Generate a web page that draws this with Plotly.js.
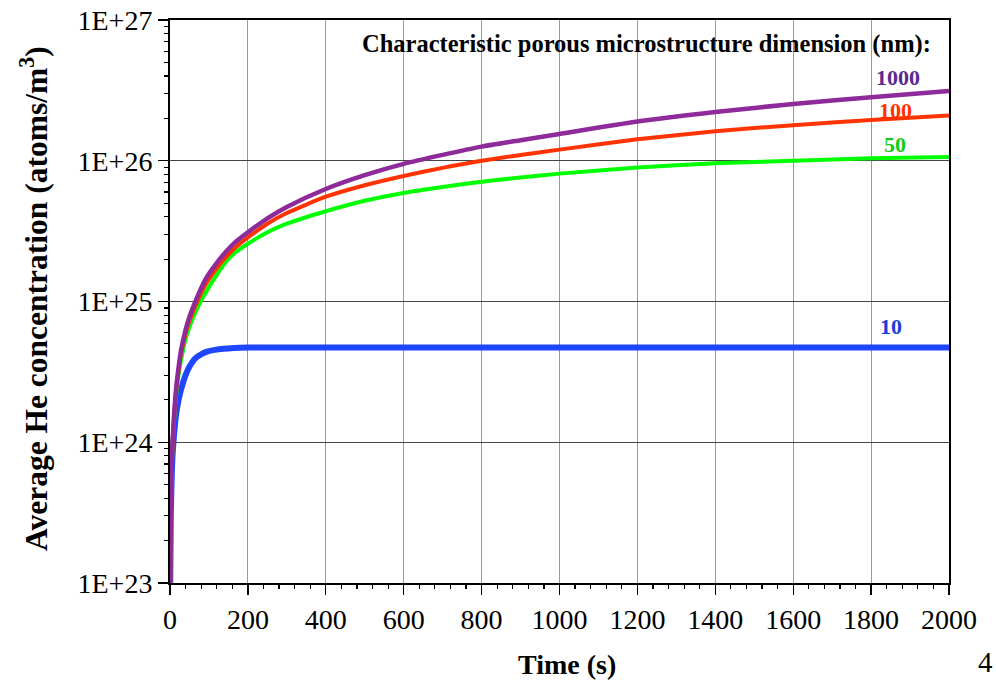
<!DOCTYPE html>
<html>
<head>
<meta charset="utf-8">
<script src="https://cdn.plot.ly/plotly-3.0.1.min.js"></script>
<style>html,body{margin:0;padding:0;background:#fff;}#chart{width:996px;height:681px;}</style>
</head>
<body>
<div id="chart"></div>
<script>
// Time (s)
const time = [0.6, 2, 5, 7, 10, 16, 22, 28, 40, 50, 65, 82, 95, 115, 137, 165, 200, 250, 300, 400, 500, 600, 700, 800, 900, 1000, 1200, 1400, 1600, 1800, 2000];
// Average He concentration (atoms/m3), per characteristic dimension
const he1000 = [1.0e23, 3.2e23, 7.8e23, 1.05e24, 1.5e24, 2.45e24, 3.4e24, 4.45e24, 6.3e24, 7.8e24, 1.0e25, 1.28e25, 1.5e25, 1.8e25, 2.15e25, 2.6e25, 3.1e25, 3.9e25, 4.7e25, 6.3e25, 7.9e25, 9.5e25, 1.1e26, 1.26e26, 1.4e26, 1.55e26, 1.9e26, 2.22e26, 2.53e26, 2.83e26, 3.13e26];
const he100 = [1.0e23, 3.1e23, 7.6e23, 1.02e24, 1.45e24, 2.35e24, 3.25e24, 4.2e24, 5.95e24, 7.3e24, 9.3e24, 1.18e25, 1.37e25, 1.65e25, 1.97e25, 2.38e25, 2.85e25, 3.57e25, 4.25e25, 5.55e25, 6.7e25, 7.8e25, 8.9e25, 1.0e26, 1.1e26, 1.2e26, 1.42e26, 1.62e26, 1.79e26, 1.95e26, 2.1e26];
const he50 = [1.0e23, 3.0e23, 7.2e23, 9.7e23, 1.38e24, 2.2e24, 3.0e24, 3.8e24, 5.4e24, 6.6e24, 8.4e24, 1.04e25, 1.2e25, 1.47e25, 1.82e25, 2.2e25, 2.57e25, 3.1e25, 3.57e25, 4.38e25, 5.2e25, 5.9e25, 6.5e25, 7.1e25, 7.6e25, 8.1e25, 8.95e25, 9.6e25, 1.0e26, 1.04e26, 1.065e26];
const he10 = [1.0e23, 3.0e23, 6.5e23, 8.5e23, 1.1e24, 1.6e24, 2.0e24, 2.35e24, 3.0e24, 3.45e24, 3.95e24, 4.25e24, 4.4e24, 4.53e24, 4.62e24, 4.68e24, 4.71e24, 4.72e24, 4.72e24, 4.72e24, 4.72e24, 4.72e24, 4.72e24, 4.72e24, 4.72e24, 4.72e24, 4.72e24, 4.72e24, 4.72e24, 4.72e24, 4.72e24];

const seriesNames = ["10", "50", "100", "1000"];
const yTickVals = [1e23, 1e24, 1e25, 1e26, 1e27];
const yTickText = ["1E+23", "1E+24", "1E+25", "1E+26", "1E+27"];
const xTickVals = [0, 200, 400, 600, 800, 1000, 1200, 1400, 1600, 1800, 2000];

const titleText = "Characteristic porous microstructure dimension (nm):";
const xTitle = "Time (s)";
const yTitle = "Average He concentration (atoms/m<sup>3</sup>)";
const pageNumber = "4";

const SERIF = "Liberation Serif, Times New Roman, serif";

// minor tick positions derived from the major ticks
const yMinor = [];
for (let i = 0; i < yTickVals.length - 1; i++) {
  for (let k = 2; k <= 9; k++) yMinor.push(yTickVals[i] * k);
}
const xMinor = [];
for (let i = 0; i < xTickVals.length - 1; i++) {
  const step = (xTickVals[i + 1] - xTickVals[i]) / 5;
  for (let k = 1; k <= 4; k++) xMinor.push(xTickVals[i] + k * step);
}

const traces = [
  {x: time, y: he10, name: seriesNames[0], mode: "lines", line: {color: "#1f45ff", width: 6, shape: "spline", smoothing: 0.6}},
  {x: time, y: he50, name: seriesNames[1], mode: "lines", line: {color: "#00ff00", width: 4, shape: "spline", smoothing: 0.6}},
  {x: time, y: he100, name: seriesNames[2], mode: "lines", line: {color: "#ff3300", width: 4, shape: "spline", smoothing: 0.6}},
  {x: time, y: he1000, name: seriesNames[3], mode: "lines", line: {color: "#8e2a9a", width: 4.5, shape: "spline", smoothing: 0.6}},
  // invisible carrier trace so the minor-tick overlay axes are drawn
  {x: time, y: he10, xaxis: "x2", yaxis: "y2", mode: "lines", line: {width: 0, color: "rgba(0,0,0,0)"}, hoverinfo: "skip", showlegend: false}
];

const layout = {
  width: 996, height: 681,
  margin: {l: 170, r: 47, t: 20, b: 98, pad: 0},
  paper_bgcolor: "#ffffff", plot_bgcolor: "#ffffff",
  showlegend: false,
  font: {family: SERIF, color: "#000"},
  xaxis: {
    range: [0, 2000], tickmode: "array", tickvals: xTickVals,
    showgrid: true, gridcolor: "#999999", gridwidth: 1,
    zeroline: false, showline: true, mirror: true, linecolor: "#000", linewidth: 2,
    ticks: "outside", ticklen: 10, tickwidth: 1.2, tickcolor: "#000",
    tickfont: {family: SERIF, size: 28, color: "#000"}
  },
  yaxis: {
    type: "log", range: [23, 27], tickmode: "array", tickvals: yTickVals, ticktext: yTickText,
    showgrid: true, gridcolor: "#444444", gridwidth: 1,
    zeroline: false, showline: true, mirror: true, linecolor: "#000", linewidth: 2,
    ticks: "outside", ticklen: 10, tickwidth: 1.2, tickcolor: "#000",
    tickfont: {family: SERIF, size: 28, color: "#000"}
  },
  xaxis2: {
    overlaying: "x", anchor: "y2", side: "bottom", range: [0, 2000],
    tickmode: "array", tickvals: xMinor, ticks: "outside", ticklen: 5, tickwidth: 1.2, tickcolor: "#000",
    showticklabels: false, showgrid: false, zeroline: false, showline: false
  },
  yaxis2: {
    overlaying: "y", anchor: "x2", side: "left", type: "log", range: [23, 27],
    tickmode: "array", tickvals: yMinor, ticks: "outside", ticklen: 5, tickwidth: 1.2, tickcolor: "#000",
    showticklabels: false, showgrid: false, zeroline: false, showline: false
  },
  annotations: [
    {text: "<b>" + titleText + "</b>", xref: "paper", yref: "paper", x: 0.612, y: 0.958, xanchor: "center", yanchor: "middle", showarrow: false, font: {family: SERIF, size: 24.5, color: "#000"}},
    {text: "<b>" + seriesNames[3] + "</b>", xref: "paper", yref: "paper", x: 0.935, y: 0.897, xanchor: "center", yanchor: "middle", showarrow: false, font: {family: SERIF, size: 22, color: "#5b2a8e"}},
    {text: "<b>" + seriesNames[2] + "</b>", xref: "paper", yref: "paper", x: 0.931, y: 0.84, xanchor: "center", yanchor: "middle", showarrow: false, font: {family: SERIF, size: 22, color: "#ff3300"}},
    {text: "<b>" + seriesNames[1] + "</b>", xref: "paper", yref: "paper", x: 0.931, y: 0.778, xanchor: "center", yanchor: "middle", showarrow: false, font: {family: SERIF, size: 22, color: "#11cc11"}},
    {text: "<b>" + seriesNames[0] + "</b>", xref: "paper", yref: "paper", x: 0.925, y: 0.456, xanchor: "center", yanchor: "middle", showarrow: false, font: {family: SERIF, size: 22, color: "#1a3cd8"}},
    {text: "<b>" + xTitle + "</b>", xref: "paper", yref: "paper", x: 0.5096, y: -0.1456, xanchor: "center", yanchor: "middle", showarrow: false, font: {family: SERIF, size: 28, color: "#000"}},
    {text: "<b>" + yTitle + "</b>", xref: "paper", yref: "paper", x: -0.1755, y: 0.505, xanchor: "center", yanchor: "middle", textangle: -90, showarrow: false, font: {family: SERIF, size: 31.5, color: "#000"}},
    {text: pageNumber, xref: "paper", yref: "paper", x: 1.047, y: -0.1412, xanchor: "center", yanchor: "middle", showarrow: false, font: {family: SERIF, size: 29, color: "#000"}}
  ]
};

Plotly.newPlot("chart", traces, layout, {staticPlot: true, displayModeBar: false});
</script>
</body>
</html>
